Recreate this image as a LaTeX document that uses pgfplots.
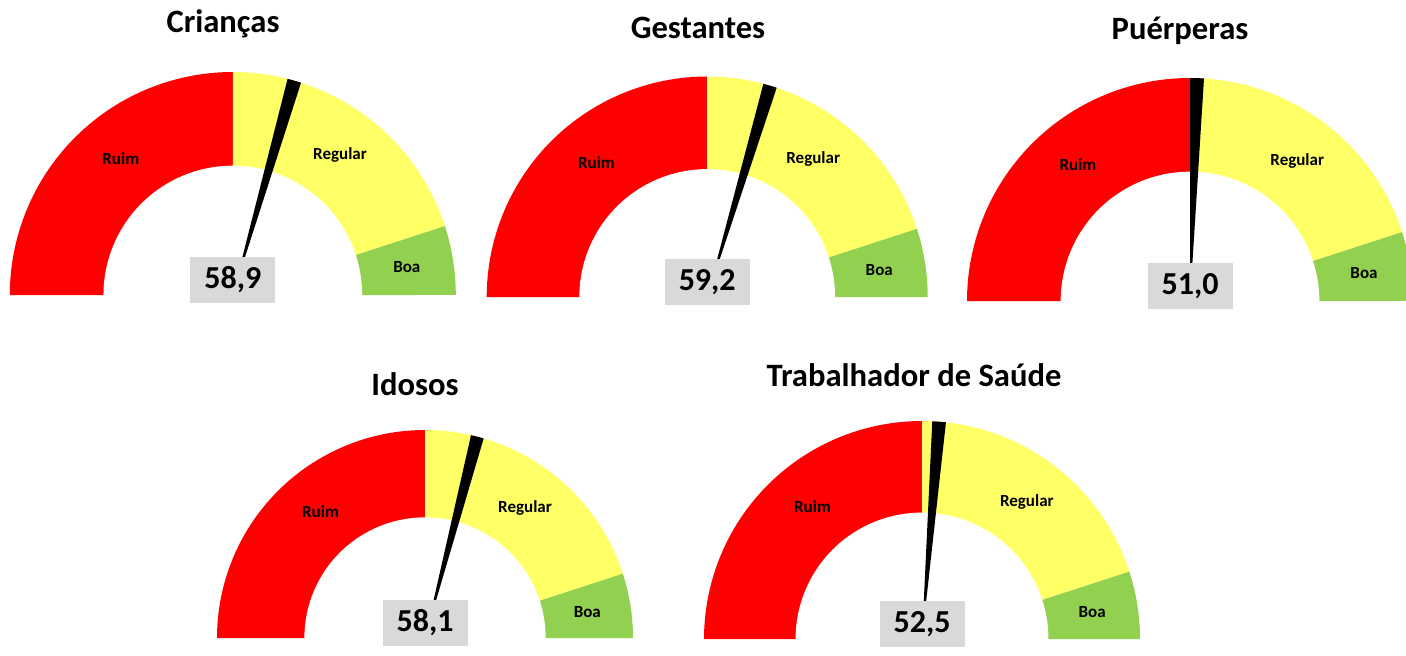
\documentclass[border=0pt]{standalone}
\usepackage{pgfplots}
\pgfplotsset{compat=1.18}
\usepackage{fontspec}
\setmainfont{Carlito}
\definecolor{gRed}{RGB}{255,0,0}
\definecolor{gYel}{RGB}{255,255,102}
\definecolor{gGrn}{RGB}{146,208,80}
\definecolor{gBox}{RGB}{217,217,217}

% #1 cx, #2 cy (pt), #3 outer radius (pt), #4 value, #5 title, #6 title x, #7 title y (baseline)
\newcommand{\gauge}[7]{%
\begin{axis}[at={(#1pt,#2pt)}, anchor=south, x=#3pt, y=#3pt, hide axis,
  xmin=-1, xmax=1, ymin=0, ymax=1, clip=false, variable=\t, samples=90]
  % segments: Ruim 0-50, Regular 50-90, Boa 90-100
  \addplot[fill=gRed, draw=none, domain=0:50] ({-cos(1.8*\t)},{sin(1.8*\t)}) -- (axis cs:0,0) -- cycle;
  \addplot[fill=gYel, draw=none, domain=50:90] ({-cos(1.8*\t)},{sin(1.8*\t)}) -- (axis cs:0,0) -- cycle;
  \addplot[fill=gGrn, draw=none, domain=90:100] ({-cos(1.8*\t)},{sin(1.8*\t)}) -- (axis cs:0,0) -- cycle;
  \addplot[fill=white, draw=none, domain=0:100] ({-0.58*cos(1.8*\t)},{0.58*sin(1.8*\t)})
      -- (axis cs:0.58,-0.01) -- (axis cs:-0.58,-0.01) -- cycle;
  % needle
  \addplot[fill=black, draw=none, domain=#4-1:#4+1, samples=5] ({-cos(1.8*\t)},{sin(1.8*\t)}) -- (axis cs:0,0) -- cycle;
  \node[font=\bfseries\fontsize{8.5}{10}\selectfont] at (axis cs:{0.79*cos(129.5)},{0.79*sin(129.5)}) {Ruim};
  \node[font=\bfseries\fontsize{8.5}{10}\selectfont] at (axis cs:{0.79*cos(52.5)},{0.79*sin(52.5)}) {Regular};
  \node[font=\bfseries\fontsize{8.5}{10}\selectfont] at (axis cs:{0.79*cos(9)},{0.79*sin(9)}) {Boa};
  \node[fill=gBox, minimum width=42.5pt, minimum height=23pt, inner sep=0pt, yshift=7.5pt,
        font=\bfseries\fontsize{16}{18}\selectfont] at (axis cs:0,0)
        {\pgfmathprintnumber[assume math mode=true, use comma, fixed, fixed zerofill, precision=1]{#4}};
\end{axis}
\node[font=\bfseries\fontsize{16.3}{19}\selectfont, anchor=base] at (#6pt,#7pt) {#5};
}

\begin{document}
\begin{tikzpicture}
\useasboundingbox (0,0) rectangle (703pt,327.5pt);
\gauge{116.4}{180}{111.5}{58.9}{Crianças}{111.5}{311}
\gauge{353.6}{179}{110.25}{59.2}{Gestantes}{349}{308.5}
\gauge{595}{177}{111.5}{51.0}{Puérperas}{590}{307.5}
\gauge{212.5}{8.5}{104}{58.1}{Idosos}{207.5}{130}
\gauge{461}{8}{109}{52.5}{Trabalhador de Saúde}{457}{134.5}
\end{tikzpicture}
\end{document}
